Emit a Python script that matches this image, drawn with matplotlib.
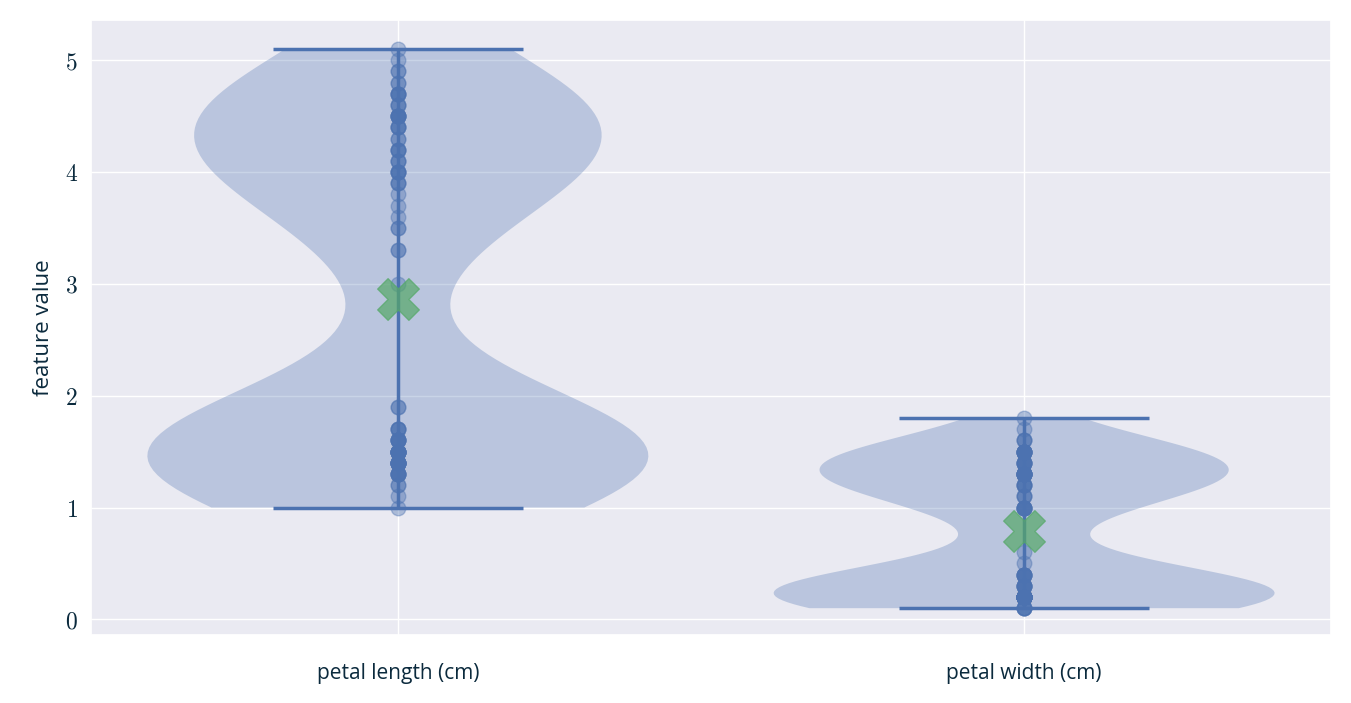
import numpy as np
import matplotlib.pyplot as plt
import seaborn as sns

sns.set_theme(style="darkgrid")
plt.rcParams['font.family'] = ['Open Sans', 'DejaVu Sans']
plt.rcParams['mathtext.fontset'] = 'cm'

features = ["petal length (cm)", "petal width (cm)"]

petal_length = [1.4,1.4,1.3,1.5,1.4,1.7,1.4,1.5,1.4,1.5,1.5,1.6,1.4,1.1,1.2,1.5,1.3,1.4,1.7,1.5,
                1.7,1.5,1.0,1.7,1.9,1.6,1.6,1.5,1.4,1.6,1.6,1.5,1.5,1.4,1.5,1.2,1.3,1.4,1.3,1.5,
                1.3,1.3,1.3,1.6,1.9,1.4,1.6,1.4,1.5,1.4,
                4.7,4.5,4.9,4.0,4.6,4.5,4.7,3.3,4.6,3.9,3.5,4.2,4.0,4.7,3.6,4.4,4.5,4.1,4.5,3.9,
                4.8,4.0,4.9,4.7,4.3,4.4,4.8,5.0,4.5,3.5,3.8,3.7,3.9,5.1,4.5,4.5,4.7,4.4,4.1,4.0,
                4.4,4.6,4.0,3.3,4.2,4.2,4.2,4.3,3.0,4.1]
petal_width = [0.2,0.2,0.2,0.2,0.2,0.4,0.3,0.2,0.2,0.1,0.2,0.2,0.1,0.1,0.2,0.4,0.4,0.3,0.3,0.3,
               0.2,0.4,0.2,0.5,0.2,0.2,0.4,0.2,0.2,0.2,0.2,0.4,0.1,0.2,0.2,0.2,0.2,0.1,0.2,0.2,
               0.3,0.3,0.2,0.6,0.4,0.3,0.2,0.2,0.2,0.2,
               1.4,1.5,1.5,1.3,1.5,1.3,1.6,1.0,1.3,1.4,1.0,1.5,1.0,1.4,1.3,1.4,1.5,1.0,1.5,1.1,
               1.8,1.3,1.5,1.2,1.3,1.4,1.4,1.7,1.5,1.0,1.1,1.0,1.2,1.6,1.5,1.6,1.5,1.3,1.3,1.3,
               1.2,1.4,1.2,1.0,1.3,1.2,1.3,1.3,1.1,1.3]
data = [petal_length, petal_width]

blue = "#4C72B0"
green = "#55A868"
txt = "#0b2a3d"

fig = plt.figure(figsize=(13.51, 7.03), dpi=100)
ax = fig.add_axes([91/1351, 1-635/703, 1240/1351, 615/703])

pos = [1, 2]
parts = ax.violinplot(data, positions=pos, widths=0.8)
for b in parts['bodies']:
    b.set_facecolor(blue)
    b.set_edgecolor('none')
    b.set_alpha(0.3)
for k in ['cmins', 'cmaxes', 'cbars']:
    parts[k].set_color(blue)
    parts[k].set_linewidth(2.5)

for p, d in zip(pos, data):
    ax.scatter([p]*len(d), d, s=110, color=blue, alpha=0.4, zorder=3)
    ax.scatter([p], [np.mean(d)], marker='X', s=900, color=green, alpha=0.7, zorder=4)

ax.set_xlim(0.51, 2.49)
ax.set_ylim(-0.14, 5.36)
ax.set_xticks(pos)
ax.set_xticklabels(features, fontsize=15, color=txt)
ax.tick_params(axis='x', pad=14)
ax.set_yticks(range(6))
ax.set_yticklabels([f"${i}$" for i in range(6)], fontsize=17, color=txt)
ax.set_ylabel("feature value", fontsize=16, color=txt, labelpad=8)

fig.savefig("out.png", dpi=100)
